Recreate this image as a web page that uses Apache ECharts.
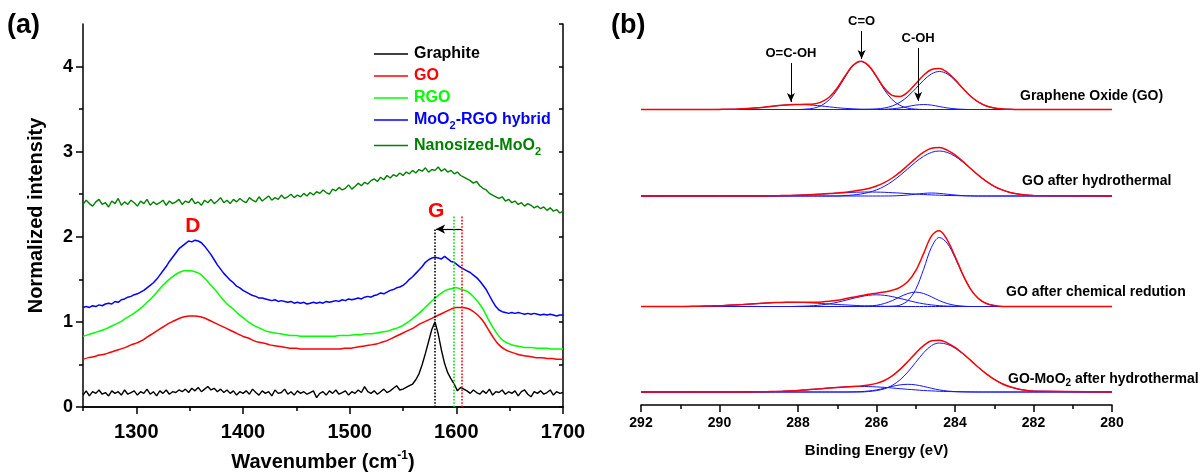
<!DOCTYPE html>
<html>
<head>
<meta charset="utf-8">
<script src="https://cdn.jsdelivr.net/npm/echarts@6/dist/echarts.min.js"></script>
<style>
html,body{margin:0;padding:0;background:#fff}
#chart{width:1200px;height:472px}
</style>
</head>
<body>
<div id="chart"></div>
<script>
// ---------- (a) Raman spectra ----------
// wavenumber sampling (cm-1): fine grid for the noisy spectra, coarse grid for the smooth ones
const ramanFine = [
1250,1253,1256,1259,1262,1265,1268,1271,1274,1277,
1280,1283,1286,1289,1292,1295,1298,1301,1304,1307,
1310,1313,1316,1319,1322,1325,1328,1331,1334,1337,
1340,1343,1346,1349,1352,1355,1358,1361,1364,1367,
1370,1373,1376,1379,1382,1385,1388,1391,1394,1397,
1400,1403,1406,1409,1412,1415,1418,1421,1424,1427,
1430,1433,1436,1439,1442,1445,1448,1451,1454,1457,
1460,1463,1466,1469,1472,1475,1478,1481,1484,1487,
1490,1493,1496,1499,1502,1505,1508,1511,1514,1517,
1520,1523,1526,1529,1532,1535,1538,1541,1544,1547,
1550,1553,1556,1559,1562,1565,1568,1571,1574,1577,
1580,1583,1586,1589,1592,1595,1598,1601,1604,1607,
1610,1613,1616,1619,1622,1625,1628,1631,1634,1637,
1640,1643,1646,1649,1652,1655,1658,1661,1664,1667,
1670,1673,1676,1679,1682,1685,1688,1691,1694,1697,
1700];
const ramanCoarse = [
1250,1255,1260,1265,1270,1275,1280,1285,1290,1295,
1300,1305,1310,1315,1320,1325,1330,1335,1340,1345,
1350,1355,1360,1365,1370,1375,1380,1385,1390,1395,
1400,1405,1410,1415,1420,1425,1430,1435,1440,1445,
1450,1455,1460,1465,1470,1475,1480,1485,1490,1495,
1500,1505,1510,1515,1520,1525,1530,1535,1540,1545,
1550,1555,1560,1565,1570,1575,1580,1585,1590,1595,
1600,1605,1610,1615,1620,1625,1630,1635,1640,1645,
1650,1655,1660,1665,1670,1675,1680,1685,1690,1695,
1700];

// normalized intensities (fine grid)
const graphite = [
0.14,0.19,0.13,0.18,0.16,0.20,0.15,0.17,0.13,0.19,
0.16,0.18,0.14,0.20,0.15,0.17,0.19,0.14,0.18,0.16,
0.21,0.15,0.18,0.13,0.19,0.16,0.20,0.15,0.18,0.17,
0.20,0.18,0.21,0.17,0.22,0.19,0.23,0.18,0.21,0.24,
0.20,0.22,0.18,0.21,0.17,0.20,0.16,0.19,0.14,0.18,
0.16,0.19,0.15,0.21,0.17,0.14,0.19,0.16,0.18,0.13,
0.20,0.16,0.17,0.21,0.15,0.18,0.14,0.19,0.16,0.18,
0.15,0.17,0.19,0.11,0.16,0.18,0.14,0.19,0.16,0.20,
0.15,0.17,0.19,0.14,0.18,0.16,0.20,0.17,0.24,0.18,
0.16,0.19,0.15,0.18,0.21,0.17,0.19,0.22,0.25,0.20,
0.21,0.23,0.25,0.27,0.32,0.39,0.50,0.63,0.77,0.91,
1.00,0.86,0.67,0.51,0.40,0.33,0.27,0.19,0.23,0.21,
0.19,0.16,0.20,0.17,0.15,0.19,0.16,0.21,0.14,0.18,
0.17,0.20,0.15,0.18,0.16,0.19,0.13,0.18,0.20,0.15,
0.12,0.18,0.16,0.19,0.15,0.17,0.20,0.14,0.18,0.16,
0.17];
const hybrid = [
1.17,1.18,1.17,1.19,1.18,1.20,1.19,1.21,1.22,1.21,
1.24,1.23,1.26,1.27,1.29,1.30,1.32,1.33,1.35,1.37,
1.40,1.43,1.46,1.50,1.55,1.60,1.65,1.71,1.76,1.81,
1.86,1.89,1.92,1.95,1.94,1.96,1.95,1.93,1.89,1.84,
1.79,1.73,1.67,1.62,1.57,1.53,1.49,1.46,1.42,1.40,
1.37,1.35,1.33,1.31,1.30,1.28,1.28,1.27,1.26,1.25,
1.26,1.24,1.25,1.24,1.23,1.24,1.22,1.23,1.22,1.23,
1.21,1.22,1.23,1.22,1.23,1.22,1.24,1.23,1.24,1.25,
1.24,1.26,1.25,1.27,1.26,1.27,1.28,1.27,1.29,1.30,
1.29,1.31,1.32,1.34,1.33,1.35,1.37,1.38,1.40,1.41,
1.43,1.46,1.50,1.53,1.57,1.61,1.65,1.70,1.73,1.75,
1.76,1.75,1.74,1.77,1.74,1.71,1.70,1.67,1.64,1.62,
1.60,1.58,1.55,1.52,1.48,1.43,1.38,1.31,1.24,1.18,
1.14,1.12,1.11,1.10,1.11,1.10,1.11,1.10,1.09,1.10,
1.09,1.10,1.09,1.08,1.09,1.08,1.09,1.08,1.07,1.08,
1.08];
const nanoMoO2 = [
2.38,2.43,2.39,2.36,2.41,2.44,2.38,2.40,2.35,2.42,
2.39,2.45,2.37,2.41,2.38,2.43,2.40,2.36,2.42,2.39,
2.44,2.37,2.41,2.38,2.40,2.43,2.37,2.42,2.39,2.41,
2.44,2.38,2.42,2.40,2.45,2.39,2.41,2.37,2.43,2.40,
2.44,2.39,2.42,2.46,2.40,2.43,2.39,2.44,2.41,2.45,
2.42,2.40,2.46,2.43,2.41,2.47,2.42,2.45,2.48,2.43,
2.46,2.44,2.49,2.45,2.47,2.50,2.46,2.49,2.47,2.51,
2.48,2.52,2.49,2.53,2.51,2.55,2.52,2.50,2.56,2.54,
2.58,2.55,2.57,2.61,2.56,2.59,2.63,2.60,2.64,2.62,
2.66,2.68,2.65,2.70,2.67,2.72,2.69,2.73,2.71,2.75,
2.72,2.76,2.74,2.78,2.75,2.79,2.77,2.81,2.76,2.79,
2.78,2.82,2.77,2.80,2.76,2.78,2.74,2.76,2.72,2.70,
2.68,2.66,2.63,2.65,2.60,2.57,2.55,2.51,2.49,2.47,
2.45,2.47,2.42,2.44,2.40,2.42,2.38,2.40,2.36,2.39,
2.37,2.34,2.36,2.33,2.35,2.31,2.34,2.30,2.32,2.28,
2.30];
// normalized intensities (coarse grid)
const grapheneOxide = [
0.56,0.58,0.59,0.61,0.62,0.64,0.66,0.68,0.70,0.73,
0.75,0.78,0.82,0.86,0.90,0.94,0.98,1.01,1.04,1.06,
1.07,1.07,1.06,1.04,1.01,0.98,0.95,0.92,0.89,0.86,
0.83,0.81,0.78,0.76,0.75,0.73,0.72,0.71,0.70,0.69,
0.69,0.68,0.68,0.68,0.68,0.68,0.68,0.68,0.68,0.69,
0.69,0.70,0.71,0.72,0.73,0.74,0.76,0.78,0.81,0.84,
0.87,0.90,0.93,0.97,1.00,1.03,1.06,1.09,1.12,1.15,
1.17,1.17,1.16,1.13,1.08,1.01,0.91,0.81,0.73,0.68,
0.65,0.63,0.61,0.60,0.59,0.58,0.58,0.57,0.57,0.56,
0.56];
const reducedGO = [
0.83,0.85,0.87,0.89,0.91,0.94,0.97,1.00,1.04,1.08,
1.12,1.17,1.23,1.29,1.36,1.43,1.49,1.54,1.58,1.60,
1.60,1.59,1.56,1.50,1.43,1.36,1.28,1.21,1.16,1.10,
1.05,1.00,0.96,0.93,0.90,0.88,0.87,0.86,0.85,0.84,
0.84,0.83,0.83,0.83,0.83,0.83,0.83,0.83,0.84,0.84,
0.84,0.85,0.85,0.86,0.86,0.87,0.88,0.89,0.91,0.93,
0.96,1.00,1.05,1.10,1.16,1.22,1.28,1.33,1.37,1.39,
1.40,1.38,1.36,1.31,1.24,1.15,1.03,0.92,0.83,0.77,
0.74,0.72,0.71,0.70,0.70,0.69,0.69,0.69,0.68,0.68,
0.68];

const ramanXTicks = [1300, 1400, 1500, 1600, 1700];
const ramanXMinor = [1350, 1450, 1550, 1650];
const ramanYTicks = [0, 1, 2, 3, 4];
const ramanYMinor = [0.5, 1.5, 2.5, 3.5];

// G-band positions (cm-1) and annotation anchors
const gBandGraphite = 1580, gBandRGO = 1598, gBandGO = 1605;
const gShiftLevel = 2.09, gLineTop = 2.25;
const labelD = [1353, 2.13], labelG = [1581, 2.30];

// ---------- (b) C1s XPS spectra ----------
const xpsEnergy = [292,
291,290.8,290.6,290.4,290.2,290,289.8,289.6,289.4,289.2,
289,288.8,288.6,288.4,288.2,288,287.8,287.6,287.4,287.2,
287,286.8,286.6,286.4,286.2,286,285.8,285.6,285.4,285.2,
285,284.8,284.6,284.4,284.2,284,283.8,283.6,283.4,283.2,
283,282.8,282.6,282.4,282.2,282,
280];

// Graphene oxide: envelope and fitted C-C, C-OH, C=O, O=C-OH components
const goFit = [0,
0,0,0,0,0,0.1,0.2,0.35,0.7,1.15,
1.8,2.6,3.5,4.25,4.8,5.0,5.2,5.55,7.6,12.5,
21.5,33.55,44.2,48.35,43.9,33.1,21.4,14.1,13.0,17.5,
25.8,34.2,40.0,41.0,37.2,29.9,21.2,13.2,7.3,3.5,
1.5,0.6,0.2,0,0,0,
0];
const goCC = [0,
0,0,0,0,0,0,0,0,0,0,
0,0,0,0,0,0,0,0,0,0,
0,0,0,0,0.2,0.6,1.5,3.5,7.3,13.2,
21.0,29.2,35.6,38,35.6,29.2,21.0,13.2,7.3,3.5,
1.5,0.6,0.2,0,0,0,
0];
const goCOH = [0,
0,0,0,0,0,0,0,0,0,0,
0,0,0,0,0,0,0,0,0,0,
0,0,0,0,0,0,0.2,0.7,1.6,3.0,
4.4,5,4.4,3.0,1.6,0.7,0.2,0,0,0,
0,0,0,0,0,0,
0];
const goCO = [0,
0,0,0,0,0,0,0,0,0,0,
0,0,0,0,0,0,0.4,1.3,4.1,9.9,
19.7,32.4,43.5,48,43.5,32.4,19.7,9.9,4.1,1.3,
0.4,0,0,0,0,0,0,0,0,0,
0,0,0,0,0,0,
0];
const goCOOH = [0,
0,0,0,0,0,0.1,0.2,0.35,0.7,1.15,
1.8,2.6,3.5,4.25,4.8,5,4.8,4.25,3.5,2.6,
1.8,1.15,0.7,0.35,0.2,0.1,0,0,0,0,
0,0,0,0,0,0,0,0,0,0,
0,0,0,0,0,0,
0];

// GO after hydrothermal treatment
const hyFit = [0,
0,0,0,0,0,0,0,0,0,0,
0,0.1,0.2,0.4,0.5,0.8,1.1,1.5,1.9,2.4,
2.9,3.8,4.7,5.9,7.6,10.0,13.4,18.0,23.9,30.7,
37.7,43.8,47.7,48.4,45.9,41.1,34.6,27.5,20.6,14.6,
9.7,6.1,3.6,2.0,1.0,0.5,
0];
const hyCC = [0,
0,0,0,0,0,0,0,0,0,0,
0,0,0,0,0,0,0,0,0,0,
0,0.5,1.0,2.0,3.6,6.1,9.7,14.6,20.6,27.3,
34.0,39.7,43.6,45,43.6,39.7,34.0,27.3,20.6,14.6,
9.7,6.1,3.6,2.0,1.0,0.5,
0];
const hyCOH = [0,
0,0,0,0,0,0,0,0,0,0,
0,0,0,0,0,0,0,0,0,0,
0,0,0,0,0,0,0,0.1,0.4,1.0,
1.8,2.6,3,2.6,1.8,1.0,0.4,0.1,0,0,
0,0,0,0,0,0,
0];
const hyCO = [0,
0,0,0,0,0,0,0,0,0,0,
0,0.1,0.2,0.4,0.5,0.8,1.1,1.5,1.9,2.4,
2.9,3.3,3.7,3.9,4,3.9,3.7,3.3,2.9,2.4,
1.9,1.5,1.1,0.8,0.5,0.4,0.2,0.1,0,0,
0,0,0,0,0,0,
0];

// GO after chemical reduction
const chFit = [0,
0,0.1,0.2,0.4,0.6,0.8,1.2,1.6,2.0,2.5,
3.0,3.5,3.9,4.1,4.2,4.3,4.3,4.35,4.6,5.2,
6.2,7.7,9.3,10.7,12.2,13.3,14.4,16.2,19.2,25.0,
35.8,52.9,70.4,75.75,66.7,50.2,32.0,17.2,7.9,3.0,
1.0,0,0,0,0,0,
0];
const chCOOH = [0,
0,0.1,0.2,0.4,0.6,0.8,1.2,1.6,2.0,2.5,
3.0,3.5,3.9,4.1,4.2,4.1,3.9,3.5,3.0,2.5,
2.0,1.6,1.2,0.8,0.6,0.4,0.2,0.1,0,0,
0,0,0,0,0,0,0,0,0,0,
0,0,0,0,0,0,
0];
const chCO = [0,
0,0,0,0,0,0,0,0,0,0,
0,0,0,0,0,0.2,0.4,0.85,1.6,2.7,
4.2,6.1,8.1,9.9,11.2,11.7,11.2,9.9,8.1,6.1,
4.2,2.7,1.6,0.85,0.4,0.2,0,0,0,0,
0,0,0,0,0,0,
0];
const chCOH = [0,
0,0,0,0,0,0,0,0,0,0,
0,0,0,0,0,0,0,0,0,0,
0,0,0,0,0.4,1.2,3.0,5.9,9.7,13.0,
14.4,13.0,9.7,5.9,3.0,1.2,0.4,0,0,0,
0,0,0,0,0,0,
0];
const chCC = [0,
0,0,0,0,0,0,0,0,0,0,
0,0,0,0,0,0,0,0,0,0,
0,0,0,0,0,0,0,0.3,1.4,5.9,
17.2,37.2,59.1,69,63.3,48.8,31.6,17.2,7.9,3.0,
1.0,0,0,0,0,0,
0];

// GO-MoO2 after hydrothermal treatment
const moFit = [0,
0,0,0,0,0,0,0,0,0,0.11,
0.19,0.31,0.49,0.74,1.1,1.5,2.1,2.7,3.3,4.0,
4.6,5.1,5.55,5.9,6.9,8.6,11.55,16.2,22.6,30.5,
38.9,46.3,51.25,51.84,49.19,44.61,38.54,31.61,24.5,18.1,
12.6,8.3,5.2,3.1,1.7,0.9,
0];
const moCC = [0,
0,0,0,0,0,0,0,0,0,0,
0,0,0,0,0,0,0,0,0,0,
0,0,0,0,0.5,1.4,3.2,6.6,12.2,20.1,
29.7,39.2,46.4,49,47.7,43.9,38.2,31.5,24.5,18.1,
12.6,8.3,5.2,3.1,1.7,0.9,
0];
const moCOH = [0,
0,0,0,0,0,0,0,0,0,0,
0,0,0,0,0,0,0,0,0,0,
0,0,0.15,0.4,1.0,2.1,3.75,5.6,7.1,7.7,
7.1,5.6,3.75,2.1,1.0,0.4,0.15,0,0,0,
0,0,0,0,0,0,
0];
const moCO = [0,
0,0,0,0,0,0,0,0,0,0.11,
0.19,0.31,0.49,0.74,1.1,1.5,2.1,2.7,3.3,4.0,
4.6,5.1,5.4,5.5,5.4,5.1,4.6,4.0,3.3,2.7,
2.1,1.5,1.1,0.74,0.49,0.31,0.19,0.11,0,0,
0,0,0,0,0,0,
0];

// vertical stacking of the four XPS spectra (intensity units of the hidden y axis)
const offsetGO = 295.5, offsetHydro = 209, offsetChem = 98.5, offsetMoO2 = 13;

// ---------- drawing ----------
const FONT = 'Arial, "Liberation Sans", Helvetica, sans-serif';
const BLACK = '#000000', RED = '#ff0000', LIME = '#00ff00', BLUE = '#0000ff', DKGREEN = '#008000';

const pairs = (xs, ys, off = 0) => xs.map((x, i) => [x, ys[i] + off]);

const legendLabels = {
  'Graphite': '{k|Graphite}',
  'GO': '{r|GO}',
  'RGO': '{g|RGO}',
  'MoO2-RGO hybrid': '{b|MoO}{bs|2}{b|-RGO hybrid}',
  'Nanosized-MoO2': '{d|Nanosized-MoO}{ds|2}'
};
const legText = (color) => ({color, fontSize: 16, fontWeight: 'bold', fontFamily: FONT});
const legSub = (color) => ({color, fontSize: 11, fontWeight: 'bold', fontFamily: FONT, padding: [12, 0, 0, 0]});

const ramanLine = (name, xs, ys, color, extra) => Object.assign({
  type: 'line', name, xAxisIndex: 0, yAxisIndex: 0,
  data: pairs(xs, ys), symbol: 'none', showSymbol: false,
  lineStyle: {color, width: 1.5}, itemStyle: {color}, silent: true
}, extra || {});

const series = [
  ramanLine('Graphite', ramanFine, graphite, BLACK, {
    lineStyle: {color: BLACK, width: 1.4},
    markLine: {
      silent: true, symbol: ['none', 'none'], label: {show: false},
      lineStyle: {color: BLACK, type: 'dotted', width: 1.6},
      data: [
        [{coord: [gBandGraphite, 0]}, {coord: [gBandGraphite, gShiftLevel]}],
        [{coord: [gBandGO, gShiftLevel], lineStyle: {type: 'solid', width: 1.2, color: BLACK}},
         {coord: [gBandGraphite + 1, gShiftLevel], symbol: 'arrow', symbolSize: [7, 9]}]
      ]
    }
  }),
  ramanLine('GO', ramanCoarse, grapheneOxide, RED, {
    smooth: 0.3,
    markLine: {
      silent: true, symbol: ['none', 'none'], label: {show: false},
      lineStyle: {color: RED, type: 'dotted', width: 1.6},
      data: [[{coord: [gBandGO, 0]}, {coord: [gBandGO, gLineTop]}]]
    },
    markPoint: {
      silent: true, symbol: 'circle', symbolSize: 1, itemStyle: {color: 'rgba(0,0,0,0)'},
      label: {show: true, position: 'inside', formatter: '{b}', color: RED, fontSize: 21, fontWeight: 'bold', fontFamily: FONT},
      data: [{name: 'D', coord: labelD}, {name: 'G', coord: labelG}]
    }
  }),
  ramanLine('RGO', ramanCoarse, reducedGO, LIME, {
    smooth: 0.3,
    markLine: {
      silent: true, symbol: ['none', 'none'], label: {show: false},
      lineStyle: {color: '#00dd00', type: 'dotted', width: 1.6},
      data: [[{coord: [gBandRGO, 0]}, {coord: [gBandRGO, gLineTop]}]]
    }
  }),
  ramanLine('MoO2-RGO hybrid', ramanFine, hybrid, BLUE),
  ramanLine('Nanosized-MoO2', ramanFine, nanoMoO2, DKGREEN, {lineStyle: {color: DKGREEN, width: 1.4}})
];

const xpsSpectra = [
  {fit: goFit, parts: [goCOOH, goCO, goCOH, goCC], offset: offsetGO},
  {fit: hyFit, parts: [hyCO, hyCOH, hyCC], offset: offsetHydro},
  {fit: chFit, parts: [chCOOH, chCO, chCOH, chCC], offset: offsetChem},
  {fit: moFit, parts: [moCO, moCOH, moCC], offset: offsetMoO2}
];

const bondArrow = (name, e, yFrom, yTo) => [
  {name, coord: [e, yFrom]}, {coord: [e, yTo]}
];

xpsSpectra.forEach((sp, n) => {
  sp.parts.forEach((p, j) => series.push({
    type: 'line', name: 'c1s-' + n + '-' + j, xAxisIndex: 3, yAxisIndex: 3,
    data: pairs(xpsEnergy, p, sp.offset), symbol: 'none', smooth: 0.35,
    lineStyle: {color: '#1414ff', width: 1}, z: 2, silent: true
  }));
  const fitSeries = {
    type: 'line', name: 'c1s-fit-' + n, xAxisIndex: 3, yAxisIndex: 3,
    data: pairs(xpsEnergy, sp.fit, sp.offset), symbol: 'none', smooth: 0.35,
    lineStyle: {color: RED, width: 1.5}, z: 3, silent: true
  };
  if (n === 0) {
    fitSeries.markLine = {
      silent: true, symbol: ['none', 'arrow'], symbolSize: [6, 9],
      lineStyle: {color: BLACK, type: 'solid', width: 1},
      label: {show: true, position: 'start', formatter: '{b}', distance: 3, color: BLACK,
              fontSize: 13, fontWeight: 'bold', fontFamily: FONT},
      data: [
        bondArrow('O=C-OH', 288.18, 342, 303),
        bondArrow('C=O', 286.38, 374, 346),
        bondArrow('C-OH', 284.94, 357, 304)
      ]
    };
  }
  series.push(fitSeries);
});

const axisLine = {show: true, lineStyle: {color: BLACK, width: 1.5}};
const tickStyle = {color: BLACK, width: 1.5};
const noSplit = {show: false};
const plain = (v) => String(v);

const option = {
  animation: false,
  backgroundColor: '#ffffff',
  grid: [
    {left: 83, top: 24, width: 480, height: 383, containLabel: false, outerBoundsMode: 'none'},
    {left: 641, top: 25, width: 471, height: 380, containLabel: false, outerBoundsMode: 'none'}
  ],
  legend: {
    data: ['Graphite', 'GO', 'RGO', 'MoO2-RGO hybrid', 'Nanosized-MoO2'],
    orient: 'vertical', left: 369, top: 41,
    icon: 'rect', itemWidth: 34, itemHeight: 1.5, itemGap: 6, selectedMode: false,
    formatter: (name) => legendLabels[name],
    textStyle: {
      fontFamily: FONT, fontWeight: 'bold', fontSize: 16, padding: [0, 0, 0, 1],
      rich: {
        k: legText(BLACK), r: legText(RED), g: legText(LIME),
        b: legText(BLUE), bs: legSub(BLUE), d: legText(DKGREEN), ds: legSub(DKGREEN)
      }
    }
  },
  xAxis: [
    { // (a) bottom axis with labels and major ticks
      gridIndex: 0, type: 'value', min: 1250, max: 1700, position: 'bottom',
      axisLine, splitLine: noSplit,
      axisTick: {show: true, customValues: ramanXTicks, length: 7, lineStyle: tickStyle},
      axisLabel: {customValues: ramanXTicks, formatter: plain, color: BLACK, fontSize: 20, fontWeight: 'bold', fontFamily: FONT, margin: 15},
      name: '{n|Wavenumber (cm}{sup|-1}{n|)}', nameLocation: 'middle', nameGap: 43,
      nameTextStyle: {
        color: BLACK, fontFamily: FONT, fontWeight: 'bold', fontSize: 20,
        rich: {
          n: {fontSize: 20, fontWeight: 'bold', fontFamily: FONT, color: BLACK},
          sup: {fontSize: 12, fontWeight: 'bold', fontFamily: FONT, color: BLACK, padding: [0, 0, 12, 0]}
        }
      }
    },
    { // (a) bottom minor ticks
      gridIndex: 0, type: 'value', min: 1250, max: 1700, position: 'bottom',
      axisLine: {show: false}, splitLine: noSplit, axisLabel: {show: false},
      axisTick: {show: true, customValues: ramanXMinor, length: 4, lineStyle: tickStyle}
    },
    { // (a) top frame
      gridIndex: 0, type: 'value', min: 1250, max: 1700, interval: 50, position: 'top',
      axisLine, splitLine: noSplit, axisLabel: {show: false},
      axisTick: {show: true, inside: true, length: 4, lineStyle: tickStyle}
    },
    { // (b) binding energy axis
      gridIndex: 1, type: 'value', min: 280, max: 292, interval: 2, inverse: true, position: 'bottom',
      axisLine, splitLine: noSplit,
      axisTick: {show: true, length: 7, lineStyle: tickStyle},
      minorTick: {show: true, splitNumber: 2, length: 4, lineStyle: tickStyle},
      minorSplitLine: {show: false},
      axisLabel: {formatter: plain, color: BLACK, fontSize: 14, fontWeight: 'bold', fontFamily: FONT, margin: 11},
      name: 'Binding Energy (eV)', nameLocation: 'middle', nameGap: 38,
      nameTextStyle: {color: BLACK, fontSize: 15, fontWeight: 'bold', fontFamily: FONT}
    }
  ],
  yAxis: [
    { // (a) left axis with labels and major ticks
      gridIndex: 0, type: 'value', min: 0, max: 4.5, position: 'left',
      axisLine, splitLine: noSplit,
      axisTick: {show: true, customValues: ramanYTicks, length: 7, lineStyle: tickStyle},
      axisLabel: {customValues: ramanYTicks, formatter: plain, color: BLACK, fontSize: 18, fontWeight: 'bold', fontFamily: FONT, margin: 10},
      name: 'Normalized intensity', nameLocation: 'middle', nameGap: 37, nameRotate: 90,
      nameTextStyle: {color: BLACK, fontSize: 20, fontWeight: 'bold', fontFamily: FONT}
    },
    { // (a) left minor ticks
      gridIndex: 0, type: 'value', min: 0, max: 4.5, position: 'left',
      axisLine: {show: false}, splitLine: noSplit, axisLabel: {show: false},
      axisTick: {show: true, customValues: ramanYMinor, length: 4, lineStyle: tickStyle}
    },
    { // (a) right frame
      gridIndex: 0, type: 'value', min: 0, max: 4.5, interval: 0.5, position: 'right',
      axisLine, splitLine: noSplit, axisLabel: {show: false},
      axisTick: {show: true, inside: true, length: 4, lineStyle: tickStyle}
    },
    { // (b) hidden intensity axis
      gridIndex: 1, type: 'value', min: 0, max: 380, show: false, splitLine: noSplit
    }
  ],
  graphic: [
    {type: 'text', left: 7, top: 12, style: {text: '(a)', fill: BLACK, fontSize: 27, fontWeight: 'bold', fontFamily: FONT}},
    {type: 'text', left: 611, top: 12, style: {text: '(b)', fill: BLACK, fontSize: 27, fontWeight: 'bold', fontFamily: FONT}},
    {type: 'text', left: 1020, top: 89, style: {text: 'Graphene Oxide (GO)', fill: BLACK, fontSize: 14, fontWeight: 'bold', fontFamily: FONT}},
    {type: 'text', left: 1022, top: 174, style: {text: 'GO after hydrothermal', fill: BLACK, fontSize: 14, fontWeight: 'bold', fontFamily: FONT}},
    {type: 'text', left: 1006, top: 285, style: {text: 'GO after chemical redution', fill: BLACK, fontSize: 14, fontWeight: 'bold', fontFamily: FONT}},
    {type: 'text', left: 1008, top: 372, style: {
      text: '{n|GO-MoO}{s|2}{n| after hydrothermal}', fill: BLACK,
      rich: {
        n: {fontSize: 14, fontWeight: 'bold', fontFamily: FONT, fill: BLACK, color: BLACK},
        s: {fontSize: 10, fontWeight: 'bold', fontFamily: FONT, fill: BLACK, color: BLACK, padding: [9, 0, 0, 0]}
      }
    }}
  ],
  series
};

const chart = echarts.init(document.getElementById('chart'), null, {renderer: 'canvas'});
chart.setOption(option);
</script>
</body>
</html>
